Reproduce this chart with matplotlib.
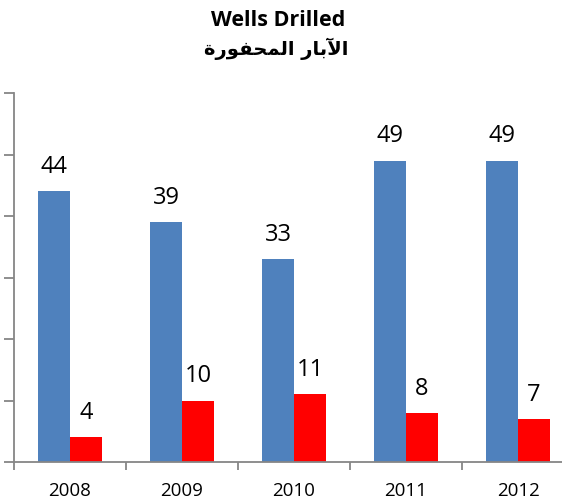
import matplotlib.pyplot as plt
import numpy as np

years = ["2008", "2009", "2010", "2011", "2012"]
oil_wells = [44, 39, 33, 49, 49]
gas_wells = [4, 10, 11, 8, 7]
y_ticks = [0, 10, 20, 30, 40, 50, 60]

title_en = "Wells Drilled"
# "الآبار المحفورة" pre-shaped into presentation forms in visual order,
# since matplotlib does no Arabic shaping or bidi itself
title_ar = ("\uFE93\uFEAD\uFEEE\uFED4\uFEA4\uFEE4\uFEDF\uFE8D"
            " "
            "\uFEAD\uFE8E\uFE91\uFEF5\uFE8D")

BLUE = "#4F81BD"
RED = "#FF0000"
AXIS = "#868686"

fig = plt.figure(figsize=(5.62, 5.02), dpi=100)
ax = fig.add_axes([14 / 562, 1 - 463 / 502, 560 / 562, 369 / 502])

x = np.arange(len(years))
w = 0.286
b1 = ax.bar(x - w / 2, oil_wells, w, color=BLUE)
b2 = ax.bar(x + w / 2, gas_wells, w, color=RED)

for bars, vals in ((b1, oil_wells), (b2, gas_wells)):
    for bar, v in zip(bars, vals):
        ax.text(bar.get_x() + bar.get_width() / 2, v + 4.1, str(v),
                ha="center", va="center", fontsize=17, family="Open Sans")

ax.set_xlim(-0.5, len(years) - 0.5)
ax.set_ylim(0, 60)
ax.set_yticks(y_ticks)
ax.set_yticklabels([])
ax.set_xticks(x)
ax.set_xticklabels(years, fontsize=13.5, family="Open Sans")
ax.set_xticks(np.arange(len(years) + 1) - 0.5, minor=True)
ax.tick_params(axis="x", which="major", length=0, pad=14)
ax.tick_params(axis="x", which="minor", length=6, width=1.3, color=AXIS, direction="out")
ax.tick_params(axis="y", length=7, width=1.3, color=AXIS, direction="out")

for side in ("top", "right"):
    ax.spines[side].set_visible(False)
for side in ("left", "bottom"):
    ax.spines[side].set_color(AXIS)
    ax.spines[side].set_linewidth(1.3)

fig.text(278 / 562, 1 - 20 / 502, title_en, ha="center", va="center",
         fontsize=15.5, fontweight="bold", family="Open Sans")
fig.text(276 / 562, 1 - 49 / 502, title_ar, ha="center", va="center",
         fontsize=14, fontweight="bold", family="DejaVu Sans")

fig.savefig("out.png", dpi=100)
